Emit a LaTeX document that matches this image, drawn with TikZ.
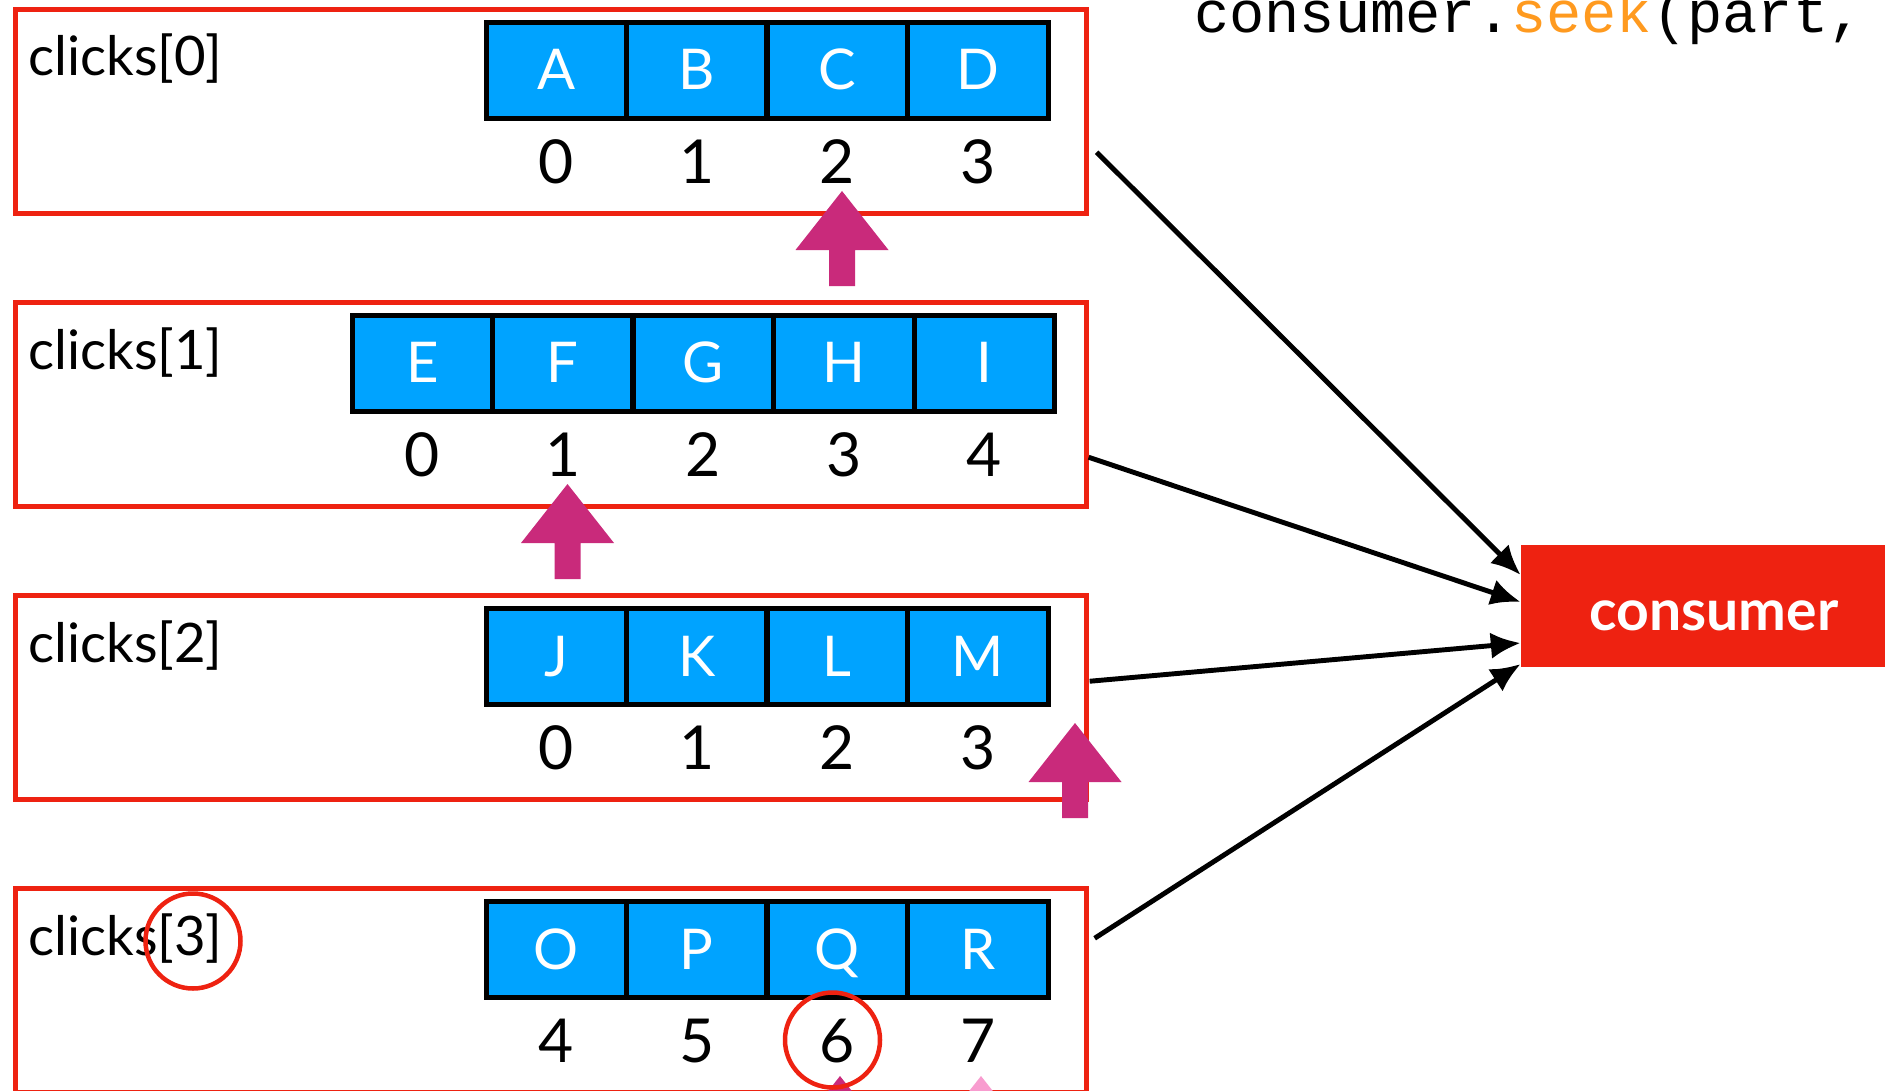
\documentclass[tikz,border=0pt]{standalone}
\usepackage{fontspec}
\setmainfont{Lato}
\setmonofont{Liberation Mono}
\usetikzlibrary{arrows.meta}

\definecolor{partred}{HTML}{EE2211}
\definecolor{cellblue}{HTML}{00A3FF}
\definecolor{ptrmag}{HTML}{C92A7B}
\definecolor{ptrpink}{HTML}{F89CCF}
\definecolor{seekorange}{HTML}{FF9A1F}

\newcommand\lblfont{\fontsize{31}{36}\selectfont}
\newcommand\cellfont{\fontsize{32}{38}\selectfont}
\newcommand\idxfont{\fontsize{34.5}{40}\selectfont}
\newcommand\codefont{\ttfamily\fontsize{33.4}{38}\selectfont}

\tikzset{
	partbox/.style={draw=partred, line width=0.1cm, minimum width=21.41cm, minimum height=4.08cm, inner sep=0pt},
	cellbox/.style={draw=black, fill=cellblue, line width=0.1cm, minimum width=2.81cm, minimum height=1.92cm, inner sep=0pt,
			text=white, font=\cellfont, text height=0.78cm, text depth=0pt},
	feed/.style={-{Latex[length=17pt,width=15pt]}, line width=2.8pt},
	ring/.style={draw=partred, line width=0.09cm}
}

\begin{document}
\begin{tikzpicture}[x=0.02cm, y=-0.02cm]
		\clip (0,0) rectangle (1885,1091);
		\foreach \r in {0,...,3}{
				\node [partbox] (part\r) at (551, 111.25+293*\r) {};
				\node [anchor = base west, inner sep=0pt, font=\lblfont] (lbl\r) at (28, 76+293*\r) {clicks[\r]};
			}
		%
		\foreach \r/\sx/\off/\letters in {0/486/0/{A,B,C,D}, 1/352/0/{E,F,G,H,I}, 2/486/0/{J,K,L,M}, 3/486/4/{O,P,Q,R}}{
				\foreach \l [count=\k from 0] in \letters {
						\pgfmathtruncatemacro\num{\k+\off}
						\node [cellbox] (cell\r-\k) at (\sx+70.25+140.5*\k, 70.5+293*\r) {\l};
						\node [anchor = base, inner sep=0pt, font=\idxfont] (idx\r-\k) at (\sx+70.25+140.5*\k, 183.5+293*\r) {\num};
					}
			}
		%
		\foreach \x/\y/\col in {842/191/ptrmag, 567.5/484/ptrmag, 1075/723/ptrmag, 840/1076/ptrmag, 981/1076/ptrpink}{
				\fill [\col] (\x,\y) --++(46.5,59) --++(-33.5,0) --++(0,36) --++(-26,0) --++(0,-36) --++(-33.5,0) -- cycle;
			}
		%
		\node [fill=partred, minimum width=7.72cm, minimum height=2.44cm, inner sep=0pt, text=white,
			font=\bfseries\fontsize{32.5}{36}\selectfont, text height=0.96cm, text depth=0pt] (consumer) at (1714,606) {consumer};
		\draw [feed] ([shift={(8,41)}]part0.east) -- ([shift={(0,-31)}]consumer.west);
		\draw [feed] ([shift={(0,53)}]part1.east) -- ([shift={(0,-4)}]consumer.west);
		\draw [feed] ([shift={(1,-16)}]part2.east) -- ([shift={(0,37)}]consumer.west);
		\draw [feed] ([shift={(6,-52)}]part3.east) -- ([shift={(0,58)}]consumer.west);
		%
		\draw [ring] (193,941) circle [radius=47.5];
		\draw [ring] (832.5,1040) circle [radius=47.5];
		%
		\node [anchor = base west, inner sep=0pt, font=\codefont] (seekcall) at (1194,33) {consumer.\textcolor{seekorange}{seek}(part,};
	\end{tikzpicture}
\end{document}
